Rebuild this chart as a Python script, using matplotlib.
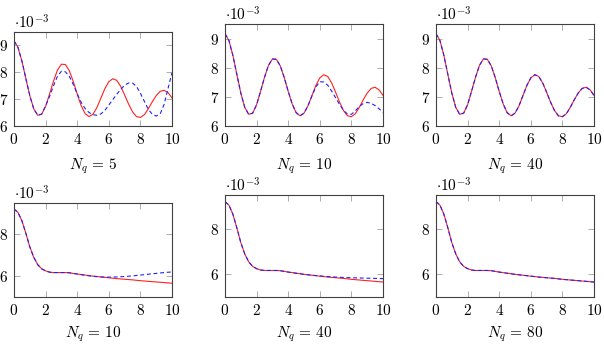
import matplotlib
matplotlib.use('Agg')
from matplotlib import pyplot as plt
from matplotlib.ticker import FuncFormatter

plt.rcParams['mathtext.fontset'] = 'cm'
plt.rcParams['font.family'] = 'DejaVu Serif'

# values are in units of 1e-3
x_top = [0, 0.25, 0.5, 0.75, 1.0, 1.25, 1.5, 1.75, 2.0, 2.25,
         2.5, 2.75, 3.0, 3.25, 3.5, 3.75, 4.0, 4.25, 4.5, 4.75,
         5.0, 5.25, 5.5, 5.75, 6.0, 6.25, 6.5, 6.75, 7.0, 7.25,
         7.5, 7.75, 8.0, 8.25, 8.5, 8.75, 9.0, 9.25, 9.5, 9.75, 10.0]

ref_top = [9.17, 8.93, 8.42, 7.77, 7.13, 6.64, 6.40, 6.44, 6.73, 7.19,
           7.67, 8.08, 8.30, 8.29, 8.06, 7.66, 7.19, 6.76, 6.46, 6.35,
           6.44, 6.69, 7.04, 7.39, 7.65, 7.76, 7.70, 7.48, 7.16, 6.82,
           6.53, 6.35, 6.32, 6.42, 6.64, 6.90, 7.13, 7.29, 7.33, 7.24, 7.05]

nq5_top = [9.17, 8.93, 8.42, 7.77, 7.13, 6.64, 6.40, 6.44, 6.75, 7.10,
           7.50, 7.85, 8.04, 8.02, 7.85, 7.55, 7.20, 6.88, 6.65, 6.50,
           6.42, 6.40, 6.45, 6.58, 6.78, 6.98, 7.18, 7.36, 7.52, 7.60,
           7.60, 7.48, 7.22, 6.92, 6.62, 6.44, 6.37, 6.45, 6.80, 7.40, 7.98]

nq10_top = [9.17, 8.93, 8.42, 7.77, 7.13, 6.64, 6.40, 6.44, 6.73, 7.19,
            7.67, 8.08, 8.30, 8.29, 8.06, 7.66, 7.19, 6.76, 6.46, 6.35,
            6.44, 6.69, 7.03, 7.34, 7.52, 7.51, 7.40, 7.20, 6.97, 6.74,
            6.54, 6.41, 6.40, 6.52, 6.67, 6.77, 6.81, 6.78, 6.70, 6.59, 6.47]

nq40_top = [9.17, 8.93, 8.42, 7.77, 7.13, 6.64, 6.40, 6.44, 6.73, 7.19,
            7.67, 8.08, 8.30, 8.29, 8.06, 7.66, 7.19, 6.76, 6.46, 6.35,
            6.44, 6.69, 7.04, 7.39, 7.65, 7.76, 7.70, 7.48, 7.16, 6.82,
            6.53, 6.35, 6.32, 6.42, 6.64, 6.90, 7.13, 7.29, 7.33, 7.24, 7.05]

x_bot = [0, 0.25, 0.5, 0.75, 1.0, 1.25, 1.5, 1.75, 2.0, 2.25,
         2.5, 2.75, 3.0, 3.25, 3.5, 3.75, 4.0, 4.5, 5.0, 5.5,
         6.0, 6.5, 7.0, 7.5, 8.0, 8.5, 9.0, 9.5, 10.0]

ref_bot = [9.21, 9.05, 8.65, 8.05, 7.40, 6.90, 6.55, 6.35, 6.25, 6.19,
           6.17, 6.17, 6.17, 6.17, 6.16, 6.13, 6.10, 6.05, 6.00, 5.96,
           5.92, 5.88, 5.85, 5.82, 5.78, 5.75, 5.72, 5.69, 5.66]

nq10_bot = [9.21, 9.05, 8.65, 8.05, 7.40, 6.90, 6.55, 6.35, 6.25, 6.19,
            6.17, 6.17, 6.17, 6.17, 6.16, 6.13, 6.10, 6.04, 5.99, 5.96,
            5.95, 5.96, 5.98, 6.01, 6.05, 6.09, 6.13, 6.17, 6.20]

nq40_bot = [9.21, 9.05, 8.65, 8.05, 7.40, 6.90, 6.55, 6.35, 6.25, 6.19,
            6.17, 6.17, 6.17, 6.17, 6.16, 6.13, 6.10, 6.05, 6.00, 5.96,
            5.93, 5.90, 5.88, 5.86, 5.85, 5.84, 5.83, 5.82, 5.81]

nq80_bot = [9.21, 9.05, 8.65, 8.05, 7.40, 6.90, 6.55, 6.35, 6.25, 6.19,
            6.17, 6.17, 6.17, 6.17, 6.16, 6.13, 6.10, 6.05, 6.00, 5.96,
            5.92, 5.88, 5.85, 5.82, 5.78, 5.75, 5.72, 5.69, 5.66]

top_labels = ['5', '10', '40']
bot_labels = ['10', '40', '80']

W, H = 604, 344
fig = plt.figure(figsize=(W / 100, H / 100), dpi=100)

# axes boxes in pixels: left, top, right, bottom
boxes = [(14, 32, 172, 126), (225, 24, 383, 126), (436, 24, 594, 126),
         (14, 203, 172, 297), (225, 195, 383, 297), (436, 195, 594, 297)]

panels = [(x_top, ref_top, nq5_top, top_labels[0]),
          (x_top, ref_top, nq10_top, top_labels[1]),
          (x_top, ref_top, nq40_top, top_labels[2]),
          (x_bot, ref_bot, nq10_bot, bot_labels[0]),
          (x_bot, ref_bot, nq40_bot, bot_labels[1]),
          (x_bot, ref_bot, nq80_bot, bot_labels[2])]

fmt = FuncFormatter(lambda v, p: '$%g$' % v)

for i, (box, (xs, ref, approx, nq)) in enumerate(zip(boxes, panels)):
    l, t, r, b = box
    ax = fig.add_axes([l / W, 1 - b / H, (r - l) / W, (b - t) / H])
    ax.plot(xs, ref, color='#ff2020', lw=0.8)
    ax.plot(xs, approx, color='#2020ff', lw=0.8, ls=(0, (3.5, 2.5)))
    ax.set_xlim(0, 10)
    ax.set_xticks([0, 2, 4, 6, 8, 10])
    if i < 3:
        ax.set_ylim(6, 9.5)
        ax.set_yticks([6, 7, 8, 9])
    else:
        ax.set_ylim(5, 9.5)
        ax.set_yticks([6, 8])
    ax.xaxis.set_major_formatter(fmt)
    ax.yaxis.set_major_formatter(fmt)
    ax.tick_params(direction='in', top=True, right=True, length=4,
                   width=0.6, color='#a0a0a0', labelsize=11, pad=4)
    for s in ax.spines.values():
        s.set_color('#404040')
        s.set_linewidth(0.8)
    ax.text(0.0, 1.005, r'$\cdot 10^{-3}$', transform=ax.transAxes,
            ha='left', va='bottom', fontsize=11)
    ax.set_xlabel(r'$N_q\,=\,%s$' % nq, fontsize=11,
                  labelpad=7 if i < 3 else 5)

fig.savefig('out.png', dpi=100)
